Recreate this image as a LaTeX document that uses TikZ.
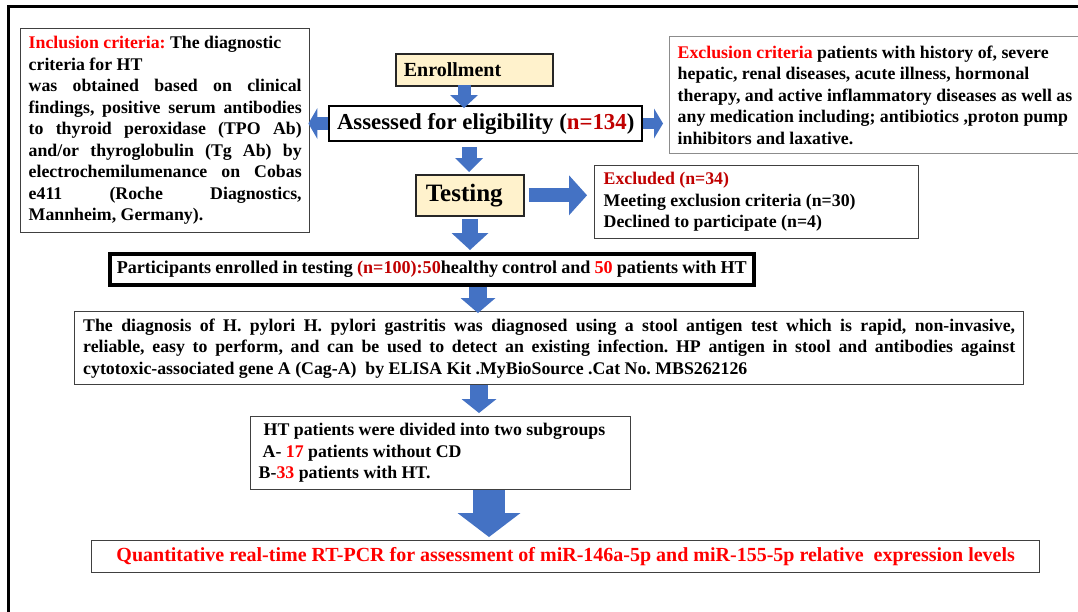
\documentclass[tikz,border=0pt]{standalone}
\usepackage{fontspec}
\setmainfont{Liberation Serif}
\usepackage{xcolor}
\usetikzlibrary{arrows.meta,positioning,calc}

\definecolor{flowblue}{HTML}{4472C4}
\definecolor{paleyellow}{HTML}{FFF2CC}
\definecolor{darkred}{HTML}{C00000}
\definecolor{edgegray}{HTML}{404040}

\newcommand{\bodyfont}{\fontsize{17.8}{21.5}\selectfont\bfseries\frenchspacing}
\newcommand{\fullline}[1]{\makebox[\hsize][s]{#1}\\}

\begin{document}
\begin{tikzpicture}[
    x=1pt, y=-1pt,
    panel/.style={draw=edgegray, line width=1.4pt, fill=white, anchor=north west,
        inner xsep=8pt, inner ysep=0pt, align=flush left, font=\bodyfont},
    stage/.style={panel, fill=paleyellow, draw=black!85, line width=1.6pt},
    fatarrow/.style n args={3}{draw=flowblue, line width=#1,
        -{Triangle[width=#2, length=#3, line width=0pt]}}
]
\path[use as bounding box] (0,0) rectangle (1078,611);
\clip (0,0) rectangle (1078,611);

% Frame
\draw[line width=3pt] (8.5,640) -- (8.5,6.5) -- (1100,6.5);

% Enrollment column
\node[stage, font=\fontsize{20}{24}\selectfont\bfseries, text width=141pt, minimum height=32pt] (enroll) at (395,53) {Enrollment};
\node[panel, draw=black, line width=2pt, align=flush center, minimum width=311pt, minimum height=35pt,
    font=\fontsize{22.8}{26}\selectfont\bfseries] (assess) at (328,105) {Assessed for eligibility (\textcolor{darkred}{n=134})};
\node[stage, font=\fontsize{25}{30}\selectfont\bfseries, inner xsep=10pt, text width=88pt, minimum height=41pt] (testing) at (415,174) {Testing};

% Criteria
\node[panel, text width=273pt, minimum height=204pt] (incl) at (20,28) {%
\textcolor{red}{Inclusion criteria:} The diagnostic\\
criteria for HT\\
\fullline{was obtained based on clinical}
\fullline{findings, positive serum antibodies}
\fullline{to thyroid peroxidase (TPO Ab)}
\fullline{and/or thyroglobulin (Tg Ab) by}
\fullline{electrochemilumenance on Cobas}
\fullline{e411 (Roche Diagnostics,}
Mannheim, Germany).};

\node[panel, draw=black!45, text width=425pt, minimum height=117pt] (excl) at (669,36) {%
\textcolor{red}{Exclusion criteria} patients with history of, severe\\
hepatic, renal diseases, acute illness, hormonal\\
therapy, and active inflammatory diseases as well as\\
any medication including; antibiotics ,proton pump\\
inhibitors and laxative.};

\node[panel, draw=black!75, inner xsep=9pt, text width=306pt, minimum height=73pt] (excluded) at (594,165) {%
\textcolor{darkred}{Excluded (n=34)}\\
Meeting exclusion criteria (n=30)\\
Declined to participate (n=4)};

% Study groups
\node[panel, draw=black, line width=3.5pt, inner xsep=7pt, text width=630pt, minimum height=31pt,
    font=\fontsize{18.1}{21.5}\selectfont\bfseries\frenchspacing] (enrolled) at (108,252)
    {Participants enrolled in testing \textcolor{darkred}{(n=100):50}healthy control and \textcolor{red}{50} patients with HT};

\node[panel, inner xsep=8.5pt, text width=932pt, minimum height=73pt] (diagnosis) at (74,311) {%
\fullline{The diagnosis of H. pylori H. pylori gastritis was diagnosed using a stool antigen test which is rapid, non-invasive,}
\fullline{reliable, easy to perform, and can be used to detect an existing infection. HP antigen in stool and antibodies against}
cytotoxic-associated gene A (Cag-A)\ \ by ELISA Kit .MyBioSource .Cat No. MBS262126};

\node[panel, text width=364pt, minimum height=73pt] (subgroups) at (250,416) {%
\hspace*{5pt}HT patients were divided into two subgroups\\
\hspace*{4pt}A- \textcolor{red}{17} patients without CD\\
B-\textcolor{red}{33} patients with HT.};

\node[panel, align=flush center, text=red, minimum width=948pt, minimum height=32pt,
    font=\fontsize{20}{24}\selectfont\bfseries] (qpcr) at (91,540)
    {Quantitative real-time RT-PCR for assessment of miR-146a-5p and miR-155-5p relative\ \ expression levels};

% Arrows
\draw[fatarrow={13pt}{28pt}{13pt}, shorten <=-2pt, shorten >=-3pt] (enroll.south -| 464,0) -- (assess.north -| 464,0);
\draw[fatarrow={13pt}{31pt}{9pt}, shorten >=-2pt] (assess.west) -- (incl.east |- assess.west);
\draw[fatarrow={11pt}{30pt}{9pt}, shorten >=6pt] (assess.east) -- (excl.west |- assess.east);
\draw[fatarrow={15pt}{28pt}{14pt}, shorten <=5pt, shorten >=2pt] (assess.south -| 469,0) -- (testing.north -| 469,0);
\draw[fatarrow={14pt}{40pt}{18pt}, shorten <=4pt, shorten >=7pt] (testing.east) -- (excluded.west |- testing.east);
\draw[fatarrow={16pt}{37pt}{17pt}, shorten <=2pt, shorten >=2pt] (testing.south -| 470,0) -- (enrolled.north -| 470,0);
\draw[fatarrow={18pt}{35pt}{15pt}, shorten >=-2pt] (enrolled.south -| 478,0) -- (diagnosis.north -| 478,0);
\draw[fatarrow={18pt}{35pt}{14pt}, shorten >=3pt] (diagnosis.south -| 479,0) -- (subgroups.north -| 479,0);
\draw[fatarrow={32pt}{63pt}{24pt}, shorten >=3pt] (subgroups.south -| 489,0) -- (qpcr.north -| 489,0);

\end{tikzpicture}
\end{document}
